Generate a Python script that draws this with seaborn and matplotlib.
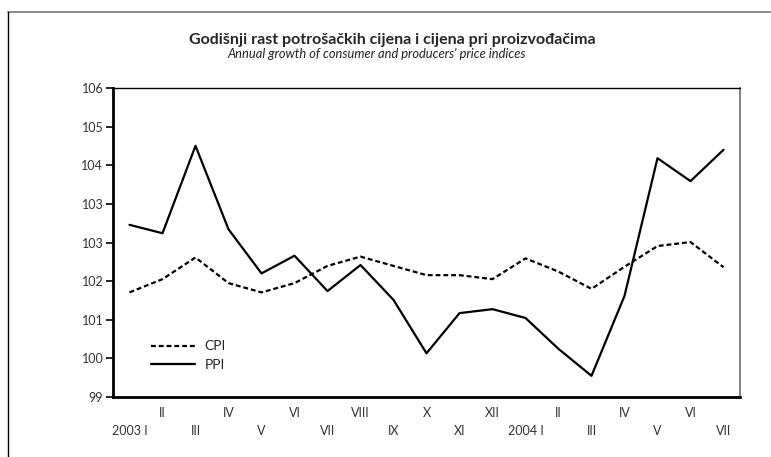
import numpy as np
import pandas as pd
import matplotlib
matplotlib.use("Agg")
import matplotlib.pyplot as plt
import seaborn as sns
from matplotlib.lines import Line2D

# data
months = ["2003 I", "II", "III", "IV", "V", "VI", "VII", "VIII", "IX", "X",
          "XI", "XII", "2004 I", "II", "III", "IV", "V", "VI", "VII"]
cpi = [101.37, 101.67, 102.16, 101.58, 101.37, 101.58, 101.97, 102.18, 101.97, 101.76,
       101.76, 101.67, 102.14, 101.84, 101.45, 101.95, 102.42, 102.51, 101.94]
ppi = [102.90, 102.71, 104.69, 102.80, 101.80, 102.20, 101.40, 101.99, 101.20, 99.99,
       100.90, 100.99, 100.79, 100.09, 99.48, 101.29, 104.41, 103.89, 104.60]
ytick_labels = ["99", "100", "101", "102", "103", "103", "104", "105", "106"]

title = "Godišnji rast potrošačkih cijena i cijena pri proizvođačima"
subtitle = "Annual growth of consumer and producers' price indices"

sns.set_style("white")
plt.rcParams["font.family"] = ["Lato", "DejaVu Sans"]

df = pd.DataFrame({
    "idx": list(range(len(months))) * 2,
    "value": cpi + ppi,
    "series": ["CPI"] * len(cpi) + ["PPI"] * len(ppi),
})

fig = plt.figure(figsize=(7.71, 4.57), dpi=100)
ax = fig.add_axes([113 / 771, 1 - 397 / 457, (740 - 113) / 771, (397 - 88) / 457])

sns.lineplot(data=df, x="idx", y="value", style="series", ax=ax,
             color="black", linewidth=1.6,
             dashes={"CPI": (2.2, 1.3), "PPI": ""}, legend=False)

ax.set_xlim(-0.5, len(months) - 0.5)
ax.set_ylim(99, 106)
ax.set_xlabel("")
ax.set_ylabel("")

# y axis: 8 equal steps, labels rounded as in the original
yt = np.linspace(99, 106, 9)
ax.set_yticks(yt)
ax.set_yticklabels(ytick_labels)
ax.tick_params(axis="y", direction="out", length=5, width=1.2, color="black",
               labelsize=9, labelcolor="#333333", pad=2, left=True)

# x axis: labels in two staggered rows
even = [i for i in range(len(months)) if i % 2 == 0]
odd = [i for i in range(len(months)) if i % 2 == 1]
ax.set_xticks(even)
ax.set_xticklabels([months[i] for i in even])
ax.set_xticks(odd, minor=True)
ax.set_xticklabels([months[i] for i in odd], minor=True)
ax.tick_params(axis="x", which="major", length=0, pad=20, labelsize=9, labelcolor="#333333")
ax.tick_params(axis="x", which="minor", length=0, pad=7, labelsize=9, labelcolor="#333333")

for side in ["left", "bottom"]:
    ax.spines[side].set_linewidth(2)
    ax.spines[side].set_color("black")
ax.spines["top"].set_linewidth(1)
ax.spines["top"].set_color("black")
ax.spines["right"].set_linewidth(1.3)
ax.spines["right"].set_color("#777777")

handles = [Line2D([0], [0], color="black", lw=1.6, dashes=(2.2, 1.3)),
           Line2D([0], [0], color="black", lw=1.6)]
ax.legend(handles, ["CPI", "PPI"], loc="lower left", bbox_to_anchor=(0.06, 0.085),
          frameon=False, fontsize=10, handlelength=3.2, labelspacing=0.45,
          handletextpad=0.7, borderpad=0, borderaxespad=0)

fig.text(392 / 771, 1 - 40 / 457, title, ha="center", va="center",
         fontsize=11.5, fontweight="bold")
fig.text(377 / 771, 1 - 54 / 457, subtitle, ha="center", va="center",
         fontsize=9.3, style="italic", color="#222222")

# outer frame lines (top and left only)
fig.add_artist(Line2D([8 / 771, 1], [1 - 12 / 457, 1 - 12 / 457],
                      transform=fig.transFigure, color="#777777", lw=1.2))
fig.add_artist(Line2D([8 / 771, 8 / 771], [0, 1 - 12 / 457],
                      transform=fig.transFigure, color="black", lw=1))

fig.savefig("out.png", dpi=100)
